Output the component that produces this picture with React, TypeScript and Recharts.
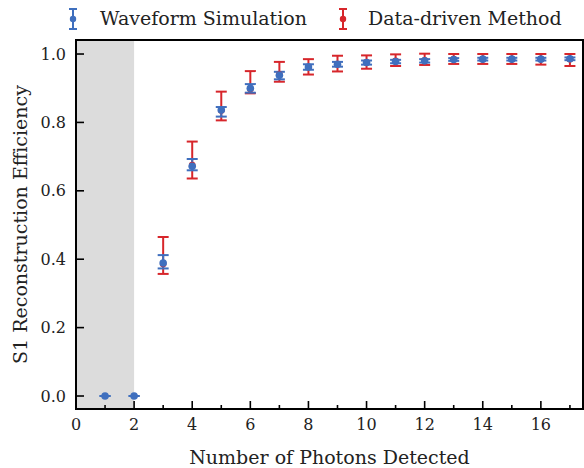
import { ComposedChart, Scatter, XAxis, YAxis, ErrorBar, ReferenceArea } from "recharts";

// photons detected
const photons = [1, 2, 3, 4, 5, 6, 7, 8, 9, 10, 11, 12, 13, 14, 15, 16, 17];

// waveform simulation: efficiency and error (low, high)
const simValue = [0, 0, 0.389, 0.672, 0.836, 0.9, 0.938, 0.962, 0.97, 0.975, 0.978, 0.98, 0.984, 0.985, 0.985, 0.985, 0.986];
const simErrLow = [0, 0, 0.016, 0.012, 0.019, 0.013, 0.012, 0.008, 0.007, 0.006, 0.005, 0.005, 0.004, 0.004, 0.004, 0.004, 0.004];
const simErrHigh = [0, 0, 0.023, 0.021, 0.009, 0.012, 0.01, 0.008, 0.007, 0.006, 0.005, 0.005, 0.004, 0.004, 0.004, 0.004, 0.004];

// data-driven method (no points below 3 photons)
const dataX = [3, 4, 5, 6, 7, 8, 9, 10, 11, 12, 13, 14, 15, 16, 17];
const dataValue = [0.386, 0.675, 0.835, 0.898, 0.94, 0.962, 0.97, 0.975, 0.98, 0.982, 0.985, 0.985, 0.985, 0.985, 0.985];
const dataLow = [0.357, 0.636, 0.806, 0.885, 0.919, 0.94, 0.949, 0.957, 0.965, 0.968, 0.971, 0.971, 0.971, 0.969, 0.965];
const dataHigh = [0.465, 0.744, 0.89, 0.95, 0.977, 0.985, 0.995, 0.996, 0.999, 1.001, 1.0, 1.0, 1.0, 1.0, 1.0];

const xTicks = [0, 1, 2, 3, 4, 5, 6, 7, 8, 9, 10, 11, 12, 13, 14, 15, 16, 17];
const yTicks = [0, 0.2, 0.4, 0.6, 0.8, 1.0];

const BLUE = "#3f6fbe";
const RED = "#d7262b";
const FONT = "'DejaVu Serif', serif";

const simData = photons.map((x, i) => ({ x, y: simValue[i], err: [simErrLow[i], simErrHigh[i]] }));
const drivenData = dataX.map((x, i) => ({
  x,
  y: dataValue[i],
  err: [dataValue[i] - dataLow[i], dataHigh[i] - dataValue[i]],
}));

const X_DOMAIN = [0, 17.45];
const Y_DOMAIN = [-0.038, 1.041];

function XTick({ x, y, payload }: any) {
  const major = payload.value % 2 === 0;
  const axisY = y - 6;
  return (
    <g>
      <line x1={x} x2={x} y1={axisY} y2={axisY - (major ? 8 : 4)} stroke="#000" strokeWidth={1.6} />
      {major && (
        <text x={x} y={axisY + 21} textAnchor="middle" fontFamily={FONT} fontSize={16} fill="#222">
          {payload.value}
        </text>
      )}
    </g>
  );
}

function YTick({ x, y, payload }: any) {
  const axisX = x + 6;
  return (
    <g>
      <line x1={axisX} x2={axisX + 8} y1={y} y2={y} stroke="#000" strokeWidth={1.6} />
      <text x={axisX - 10} y={y + 5.5} textAnchor="end" fontFamily={FONT} fontSize={16} fill="#222">
        {payload.value.toFixed(1)}
      </text>
    </g>
  );
}

function Icon({ color }: { color: string }) {
  return (
    <svg width={12} height={22} style={{ display: "block" }}>
      <line x1={6} x2={6} y1={1} y2={21} stroke={color} strokeWidth={2} />
      <line x1={2} x2={10} y1={1} y2={1} stroke={color} strokeWidth={2} />
      <line x1={2} x2={10} y1={21} y2={21} stroke={color} strokeWidth={2} />
      <circle cx={6} cy={11} r={3.2} fill={color} />
    </svg>
  );
}

const legendItems = [
  { name: "Waveform Simulation", color: BLUE, iconX: 67, textX: 100 },
  { name: "Data-driven Method", color: RED, iconX: 337, textX: 368 },
];

export default function App() {
  return (
    <div style={{ position: "absolute", left: 0, top: 0, width: 584, height: 468, background: "#fff" }}>
      {legendItems.map((it) => (
        <div key={it.name}>
          <div style={{ position: "absolute", left: it.iconX, top: 8 }}>
            <Icon color={it.color} />
          </div>
          <div
            style={{ position: "absolute", left: it.textX, top: 6, fontFamily: FONT, fontSize: 19, color: "#222", whiteSpace: "nowrap", lineHeight: "24px" }}
          >
            {it.name}
          </div>
        </div>
      ))}
      <ComposedChart width={584} height={468} margin={{ top: 40, right: 1, bottom: 0, left: 0 }}>
        <ReferenceArea x1={0} x2={2} y1={Y_DOMAIN[0]} y2={Y_DOMAIN[1]} fill="#dcdcdc" fillOpacity={1} stroke="none" />
        <XAxis
          type="number"
          dataKey="x"
          domain={X_DOMAIN}
          ticks={xTicks}
          allowDataOverflow
          height={59}
          tickSize={0}
          tickMargin={6}
          tick={<XTick />}
          axisLine={{ stroke: "#000", strokeWidth: 2 }}
          label={{ value: "Number of Photons Detected", position: "insideBottom", offset: 4, fontFamily: FONT, fontSize: 19, fill: "#222" }}
        />
        <YAxis
          type="number"
          dataKey="y"
          domain={Y_DOMAIN}
          ticks={yTicks}
          allowDataOverflow
          width={76}
          tickSize={0}
          tickMargin={6}
          tick={<YTick />}
          axisLine={{ stroke: "#000", strokeWidth: 2 }}
          label={{ value: "S1 Reconstruction Efficiency", angle: -90, position: "insideLeft", offset: 20, fontFamily: FONT, fontSize: 19, fill: "#222", style: { textAnchor: "middle" } }}
        />
        <ReferenceArea x1={X_DOMAIN[0]} x2={X_DOMAIN[1]} y1={Y_DOMAIN[0]} y2={Y_DOMAIN[1]} fill="none" stroke="#000" strokeWidth={2} />
        <Scatter name="Data-driven Method" data={drivenData} fill={RED} isAnimationActive={false} shape={(p: any) => <circle cx={p.cx} cy={p.cy} r={3.3} fill={RED} />}>
          <ErrorBar dataKey="err" direction="y" width={5.5} stroke={RED} strokeWidth={2} />
        </Scatter>
        <Scatter name="Waveform Simulation" data={simData} fill={BLUE} isAnimationActive={false} shape={(p: any) => <circle cx={p.cx} cy={p.cy} r={3.8} fill={BLUE} />}>
          <ErrorBar dataKey="err" direction="y" width={5.5} stroke={BLUE} strokeWidth={2} />
        </Scatter>
      </ComposedChart>
    </div>
  );
}
